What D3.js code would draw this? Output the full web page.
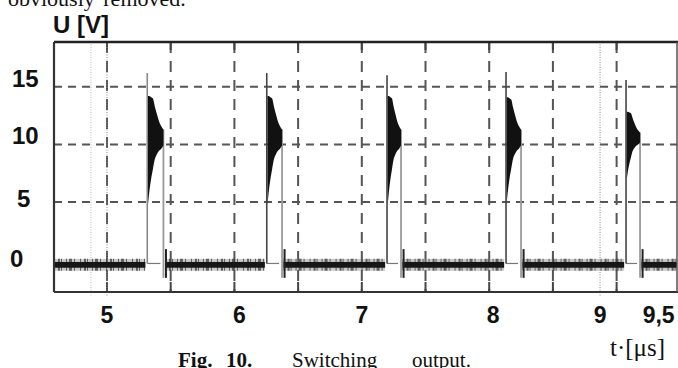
<!DOCTYPE html>
<html>
<head>
<meta charset="utf-8">
<script src="https://cdn.jsdelivr.net/npm/d3@7"></script>
<style>
  body { margin: 0; background: #fff; }
  svg { display: block; }
</style>
</head>
<body>
<svg id="chart" width="678" height="368"></svg>
<script>
// ---- axis / grid definitions ----
const yTickValues = [0, 5, 10, 15];
const yTickLabels = ["0", "5", "10", "15"];
const gridTimes = [5, 5.5, 6, 6.5, 7, 7.5, 8, 8.5, 9];      // µs
const gridVolts = [5, 10, 15];                               // V
const xTickLabels = ["5", "6", "7", "8", "9", "9,5"];
const xTickAt = [5.0, 6.04, 7.0, 8.03, 8.87, 9.33];          // µs
const cursorTimes = [4.874, 5.0, 8.87];                      // dotted cursor lines

// ---- switching pulses ----
const riseTimes = [5.316, 6.254, 7.198, 8.132, 9.074];       // µs
const fallTimes = [5.443, 6.374, 7.308, 8.250, 9.184];       // µs
const peakVolts = [16.2, 16.2, 16.0, 16.3, 15.6];            // V, overshoot spike
const ringAmp   = [1.0, 1.0, 1.0, 0.97, 0.62];               // ringing size per pulse

// ringing envelope across one pulse (fraction of pulse width)
const ringFrac = [0, 0.06, 0.2, 0.31, 0.44, 0.56, 0.69, 0.85, 1.0];
const ringTop  = [14.2, 14.2, 14.1, 14.0, 13.3, 12.7, 12.1, 11.6, 11.3];
const ringBot  = [4.8, 5.6, 7.0, 7.8, 8.7, 9.1, 9.4, 9.6, 9.9];
const ringMid = 10.6;

// off-state levels
const baseHi = -0.22, baseLo = -0.72;     // dense noise band
const fuzzHi = 0.05, fuzzLo = -0.98;      // outer noise fringe
const lowLine = -0.35;                    // trace level during the pulse
const undershoot = -1.6;
const kickUp = 0.9;

const tStart = 4.584, tEnd = 9.474;

const svg = d3.select("#chart");
const x = d3.scaleLinear().domain([tStart, tEnd]).range([54, 677]);
const y = d3.scaleLinear().domain([-2.83, 18.9]).range([292, 42]);

const plotTop = y.range()[1], plotBottom = y.range()[0];
const plotLeft = x.range()[0], plotRight = x.range()[1];

// paragraph text above the plot, running off the top edge
svg.append("text")
  .attr("x", 8).attr("y", 6)
  .attr("font-family", "'Liberation Serif', 'Times New Roman', serif")
  .attr("font-size", 22).attr("word-spacing", 3)
  .attr("fill", "#111")
  .text("obviously removed.");

// ---- grid ----
const grid = svg.append("g");
grid.selectAll("line.v").data(gridTimes).join("line")
  .attr("x1", d => x(d)).attr("x2", d => x(d))
  .attr("y1", plotTop).attr("y2", plotBottom)
  .attr("stroke", "#555").attr("stroke-width", 2)
  .attr("stroke-dasharray", "11,8");
grid.selectAll("line.h").data(gridVolts).join("line")
  .attr("x1", plotLeft).attr("x2", plotRight)
  .attr("y1", d => y(d)).attr("y2", d => y(d))
  .attr("stroke", "#555").attr("stroke-width", 2)
  .attr("stroke-dasharray", "8,6");
// frame ticks
grid.selectAll("line.tb").data(gridTimes).join("line")
  .attr("x1", d => x(d)).attr("x2", d => x(d))
  .attr("y1", plotBottom - 10).attr("y2", plotBottom)
  .attr("stroke", "#444").attr("stroke-width", 2);
grid.selectAll("line.tt").data(gridTimes).join("line")
  .attr("x1", d => x(d)).attr("x2", d => x(d))
  .attr("y1", plotTop).attr("y2", plotTop + 8)
  .attr("stroke", "#444").attr("stroke-width", 2);
// dotted cursors
grid.selectAll("line.cur").data(cursorTimes).join("line")
  .attr("x1", d => x(d)).attr("x2", d => x(d))
  .attr("y1", plotTop).attr("y2", plotBottom + 4)
  .attr("stroke", (d, i) => i === 0 ? "#bbb" : "#888").attr("stroke-width", 1)
  .attr("stroke-dasharray", "1,1.5");

// ---- trace ----
const trace = svg.append("g");

// noise band segments between pulses
const segments = [];
segments.push([tStart, riseTimes[0] - 0.015]);
for (let i = 0; i < riseTimes.length; i++) {
  const s = fallTimes[i] + 0.012;
  const e = i + 1 < riseTimes.length ? riseTimes[i + 1] - 0.015 : tEnd;
  segments.push([s, e]);
}
trace.selectAll("rect.fuzz").data(segments).join("rect")
  .attr("x", d => x(d[0])).attr("width", d => x(d[1]) - x(d[0]))
  .attr("y", y(fuzzHi)).attr("height", y(fuzzLo) - y(fuzzHi))
  .attr("fill", "#888").attr("opacity", 0.45);
// irregular hatching gives the fringe its grainy look
trace.selectAll("line.hatch").data(segments).join("line")
  .attr("x1", d => x(d[0])).attr("x2", d => x(d[1]))
  .attr("y1", y((fuzzHi + fuzzLo) / 2)).attr("y2", y((fuzzHi + fuzzLo) / 2))
  .attr("stroke", "#333").attr("stroke-opacity", 0.7)
  .attr("stroke-width", y(fuzzLo) - y(fuzzHi))
  .attr("stroke-dasharray", "1,3,2,1,1,4,1,2,3,2,1,5");
trace.selectAll("rect.core").data(segments).join("rect")
  .attr("x", d => x(d[0])).attr("width", d => x(d[1]) - x(d[0]))
  .attr("y", y(baseHi)).attr("height", y(baseLo) - y(baseHi))
  .attr("fill", "#161616");
// kick at the start of each off-segment
trace.selectAll("line.kick").data(segments.slice(1)).join("line")
  .attr("x1", d => x(d[0]) + 1).attr("x2", d => x(d[0]) + 1)
  .attr("y1", y(kickUp)).attr("y2", y(undershoot))
  .attr("stroke", "#222").attr("stroke-width", 2);

// pulses
const pulses = riseTimes.map((r, i) => ({
  rise: r, fall: fallTimes[i], peak: peakVolts[i], amp: ringAmp[i], idx: i
}));

// thin low-level line during each pulse
trace.selectAll("line.low").data(pulses).join("line")
  .attr("x1", d => x(d.rise)).attr("x2", d => x(d.fall) - 3)
  .attr("y1", y(lowLine)).attr("y2", y(lowLine))
  .attr("stroke", "#777").attr("stroke-width", 1.2);

// falling edges
trace.selectAll("line.fall").data(pulses).join("line")
  .attr("x1", d => x(d.fall)).attr("x2", d => x(d.fall))
  .attr("y1", d => y(ringMid + (ringTop[ringTop.length - 1] - ringMid) * d.amp))
  .attr("y2", y(undershoot))
  .attr("stroke", "#9a9a9a").attr("stroke-width", 1.8);

// rising edges with overshoot spike
trace.selectAll("line.rise").data(pulses).join("line")
  .attr("x1", d => x(d.rise)).attr("x2", d => x(d.rise))
  .attr("y1", y(lowLine)).attr("y2", d => y(d.peak))
  .attr("stroke", d => d.idx === 0 ? "#888" : "#444").attr("stroke-width", 1.6);

// ringing envelope
const ringArea = d3.area()
  .x(p => x(p.t)).y0(p => y(p.lo)).y1(p => y(p.hi))
  .curve(d3.curveMonotoneX);
trace.selectAll("path.ring").data(pulses).join("path")
  .attr("d", d => ringArea(ringFrac.map((f, k) => ({
    t: d.rise + 0.006 + f * (d.fall - d.rise - 0.006),
    hi: ringMid + (ringTop[k] - ringMid) * d.amp,
    lo: ringMid - (ringMid - ringBot[k]) * d.amp
  }))))
  .attr("fill", "#111");

// ---- frame ----
svg.append("line").attr("x1", plotLeft).attr("x2", plotRight + 2).attr("y1", plotTop).attr("y2", plotTop)
  .attr("stroke", "#222").attr("stroke-width", 2.5);
svg.append("line").attr("x1", plotLeft).attr("x2", plotRight + 2).attr("y1", plotBottom).attr("y2", plotBottom)
  .attr("stroke", "#333").attr("stroke-width", 2.2);
svg.append("line").attr("x1", plotLeft).attr("x2", plotLeft).attr("y1", plotTop).attr("y2", plotBottom)
  .attr("stroke", "#333").attr("stroke-width", 2.2);
svg.append("line").attr("x1", plotRight).attr("x2", plotRight).attr("y1", plotTop).attr("y2", plotBottom)
  .attr("stroke", "#555").attr("stroke-width", 1.5);

// ---- labels ----
const sans = "'Liberation Sans', Arial, sans-serif";
svg.append("text").attr("x", 53).attr("y", 33)
  .attr("font-family", sans).attr("font-weight", "bold").attr("font-size", 24)
  .attr("fill", "#111").text("U [V]");

const yNudge = v => v === 0 ? 8 : (v === 5 ? 5 : 0);
svg.append("g").selectAll("text").data(yTickValues).join("text")
  .attr("x", (d, i) => yTickLabels[i].length > 1 ? 12 : (d === 0 ? 10 : 17))
  .attr("y", d => y(d) + yNudge(d))
  .attr("font-family", sans).attr("font-weight", "bold").attr("font-size", 24)
  .attr("fill", "#111")
  .text((d, i) => yTickLabels[i]);

svg.append("g").selectAll("text").data(xTickAt).join("text")
  .attr("x", d => x(d)).attr("y", 323)
  .attr("text-anchor", "middle")
  .attr("font-family", sans).attr("font-weight", "bold").attr("font-size", 23)
  .attr("fill", "#111")
  .text((d, i) => xTickLabels[i]);

const serif = "'Liberation Serif', 'Times New Roman', serif";
svg.append("text").attr("x", 610).attr("y", 356)
  .attr("font-family", serif).attr("font-size", 25).attr("fill", "#111")
  .text("t·[μs]");

const cap = svg.append("text").attr("y", 367)
  .attr("font-family", serif).attr("font-size", 21).attr("fill", "#111");
cap.append("tspan").attr("x", 178).attr("font-weight", "bold").text("Fig.");
cap.append("tspan").attr("x", 226).attr("font-weight", "bold").text("10.");
cap.append("tspan").attr("x", 292).text("Switching");
cap.append("tspan").attr("x", 412).text("output.");
</script>
</body>
</html>
